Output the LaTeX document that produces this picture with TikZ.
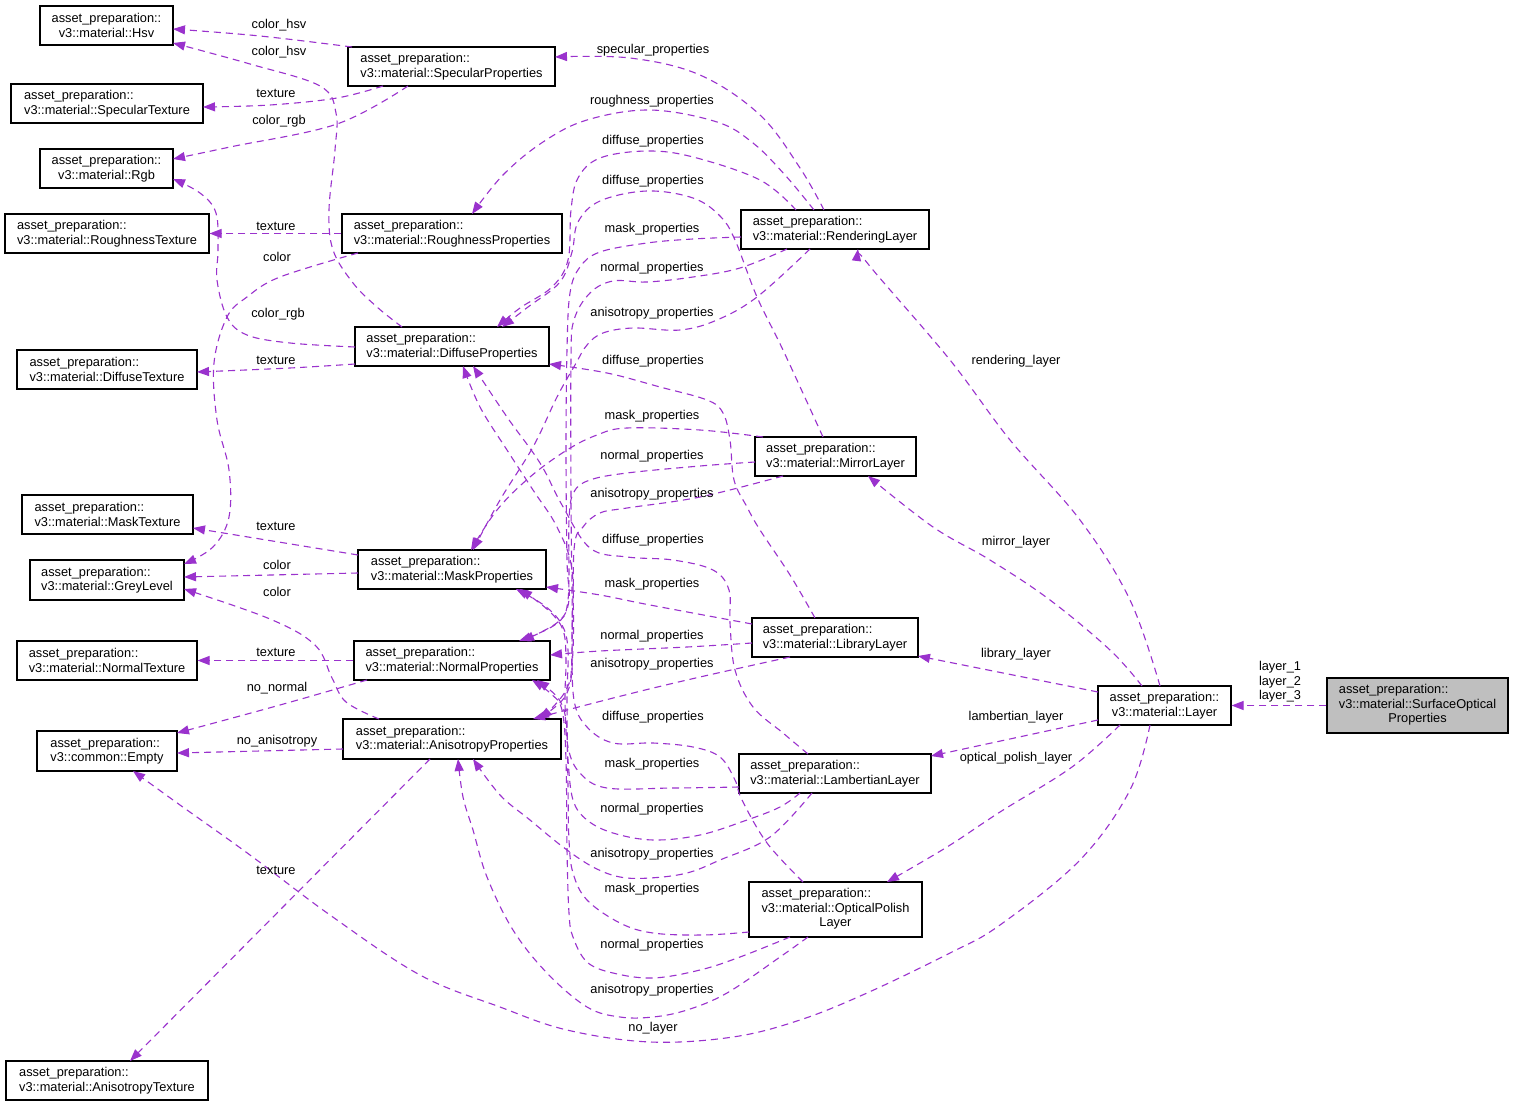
\documentclass[tikz,border=0pt]{standalone}
\usepackage{fontspec}
\setmainfont{Liberation Sans}
\usetikzlibrary{arrows.meta}
\definecolor{edgec}{HTML}{9A32CD}
\definecolor{fillg}{HTML}{BFBFBF}
\newcommand\dfont{\fontsize{12.8}{14.5}\selectfont}
\begin{document}
\begin{tikzpicture}[x=1pt,y=-1pt,
 cls/.style={draw=black, line width=1.1pt, fill=white, inner sep=0pt, font=\dfont, minimum height=39pt},
 ed/.style={draw=edgec, line width=1.1pt, dash pattern=on 7pt off 5pt, -{Triangle[length=12pt,width=9pt]}},
 lbl/.style={font=\dfont, inner sep=0pt, text=black}]
\fill[white] (0,0) rectangle (1513,1107);
\useasboundingbox (0,0) rectangle (1513,1107);
% nodes left column
\node[cls, minimum width=133pt, align=center] (hsv) at (106.5,25.5) {asset\_preparation::\\v3::material::Hsv};
\node[cls, minimum width=192pt, align=left] (spect) at (107,103.5) {asset\_preparation::\\v3::material::SpecularTexture};
\node[cls, minimum width=133pt, align=center] (rgb) at (106.5,168.5) {asset\_preparation::\\v3::material::Rgb};
\node[cls, minimum width=204pt, align=left] (rought) at (107,233.5) {asset\_preparation::\\v3::material::RoughnessTexture};
\node[cls, minimum width=180pt, align=left] (difft) at (107,369.5) {asset\_preparation::\\v3::material::DiffuseTexture};
\node[cls, minimum width=171pt, align=left] (maskt) at (107.5,514.5) {asset\_preparation::\\v3::material::MaskTexture};
\node[cls, minimum width=154pt, minimum height=40pt, align=left] (grey) at (107,580) {asset\_preparation::\\v3::material::GreyLevel};
\node[cls, minimum width=180pt, align=left] (normt) at (107,660.5) {asset\_preparation::\\v3::material::NormalTexture};
\node[cls, minimum width=140pt, minimum height=40pt, align=left] (empty) at (107,751) {asset\_preparation::\\v3::common::Empty};
\node[cls, minimum width=202pt, align=left] (anit) at (107,1080.5) {asset\_preparation::\\v3::material::AnisotropyTexture};
% middle column
\node[cls, minimum width=207pt, align=left] (specp) at (451.5,66.5) {asset\_preparation::\\v3::material::SpecularProperties};
\node[cls, minimum width=220pt, align=left] (roughp) at (452,233.5) {asset\_preparation::\\v3::material::RoughnessProperties};
\node[cls, minimum width=194pt, align=left] (diffp) at (452,346.5) {asset\_preparation::\\v3::material::DiffuseProperties};
\node[cls, minimum width=188pt, align=left] (maskp) at (452,569.5) {asset\_preparation::\\v3::material::MaskProperties};
\node[cls, minimum width=196pt, align=left] (normp) at (452,660.5) {asset\_preparation::\\v3::material::NormalProperties};
\node[cls, minimum width=218pt, minimum height=40pt, align=left] (anip) at (452,739) {asset\_preparation::\\v3::material::AnisotropyProperties};
% right column
\node[cls, minimum width=188pt, align=left] (rend) at (835,229.5) {asset\_preparation::\\v3::material::RenderingLayer};
\node[cls, minimum width=161pt, align=left] (mirror) at (835.5,456.5) {asset\_preparation::\\v3::material::MirrorLayer};
\node[cls, minimum width=166pt, align=left] (lib) at (835,637.5) {asset\_preparation::\\v3::material::LibraryLayer};
\node[cls, minimum width=192pt, align=left] (lamb) at (835,773.5) {asset\_preparation::\\v3::material::LambertianLayer};
\node[cls, minimum width=173pt, minimum height=55pt] (opt) at (835.5,909.5) {\begin{tabular}{@{}l@{}}asset\_preparation::\\v3::material::OpticalPolish\\\multicolumn{1}{@{}c@{}}{Layer}\end{tabular}};
\node[cls, minimum width=133pt, align=center] (layer) at (1164.5,705.5) {asset\_preparation::\\v3::material::Layer};
\node[cls, minimum width=181pt, minimum height=55pt, fill=fillg] (sop) at (1417.5,705.5) {\begin{tabular}{@{}l@{}}asset\_preparation::\\v3::material::SurfaceOptical\\\multicolumn{1}{@{}c@{}}{Properties}\end{tabular}};

% edges
\draw[ed] plot[smooth,tension=0.6] coordinates {([shift={(-99.5,-19.5)}]specp.center) (260,36) ([shift={(66.5,3.5)}]hsv.center)};
\draw[ed] plot[smooth,tension=0.6] coordinates {([shift={(-50,-19.5)}]diffp.center) (377,307) (353,283) (333,250) (329,210) (335,150) (336,113) (320,86) (250,64) ([shift={(66.5,17.5)}]hsv.center)};
\draw[ed] plot[smooth,tension=0.6] coordinates {([shift={(-68.5,19.5)}]specp.center) (337,98) (270,105) ([shift={(96,3.5)}]spect.center)};
\draw[ed] plot[smooth,tension=0.6] coordinates {([shift={(-43.5,19.5)}]specp.center) (337,124) (230,147) ([shift={(66.5,-9.5)}]rgb.center)};
\draw[ed] plot[smooth,tension=0.6] coordinates {([shift={(-11,-19.5)}]rend.center) (800,168) (760,115) (700,75) (630,58) ([shift={(103.5,-9.5)}]specp.center)};
\draw[ed] plot[smooth,tension=0.6] coordinates {([shift={(-21,-19.5)}]rend.center) (785,175) (753,143) (717,122) (650,110) (587,120) (543,142) (503,175) ([shift={(20,-19.5)}]roughp.center)};
\draw[ed] plot[smooth,tension=0.6] coordinates {([shift={(-39,-19.5)}]rend.center) (760,180) (693,157) (647,151) (600,158) (578,178) (571,210) (568,260) (552,287) (520,308) ([shift={(45,-19.5)}]diffp.center)};
\draw[ed] plot[smooth,tension=0.6] coordinates {([shift={(-12.5,-19.5)}]mirror.center) (783,350) (757,297) (735,240) (720,216) (693,198) (647,191) (600,201) (578,222) (572,252) (560,282) (528,307) ([shift={(50,-19.5)}]diffp.center)};
\draw[ed] plot[smooth,tension=0.6] coordinates {([shift={(-94,7.5)}]rend.center) (693,239) (647,243) (600,252) (580,267) (570,293) (567,350) (566,450) (567,560) (569,600) (558,622) ([shift={(70,-19.5)}]normp.center)};
\draw[ed] plot[smooth,tension=0.6] coordinates {([shift={(-48,19.5)}]rend.center) (740,268) (693,277) (647,282) (613,281) (590,293) (574,320) (571,360) (571,500) (572,650) (566,690) ([shift={(88,-20)}]anip.center)};
\draw[ed] plot[smooth,tension=0.6] coordinates {([shift={(-25,19.5)}]rend.center) (757,297) (717,320) (680,330) (633,328) (603,333) (587,345) (575,365) (557,397) (533,447) (500,500) ([shift={(21,-19.5)}]maskp.center)};
\draw[ed] plot[smooth,tension=0.6] coordinates {([shift={(-20,-19.5)}]lib.center) (790,575) (760,530) (747,507) (734,480) (730,440) (723,413) (707,400) (660,387) (607,373) ([shift={(97,17.5)}]diffp.center)};
\draw[ed] plot[smooth,tension=0.6] coordinates {([shift={(-72.5,-19.5)}]mirror.center) (700,430) (627,428) (597,435) (567,450) (530,477) (497,510) ([shift={(19,-19.5)}]maskp.center)};
\draw[ed] plot[smooth,tension=0.6] coordinates {([shift={(-80.5,5.5)}]mirror.center) (700,466) (627,473) (590,480) (574,492) (569,520) (568,600) (556,624) ([shift={(67,-19.5)}]normp.center)};
\draw[ed] plot[smooth,tension=0.6] coordinates {([shift={(-52.5,19.5)}]mirror.center) (700,497) (627,508) (600,513) (583,527) (574,550) (573,650) (566,695) ([shift={(85,-20)}]anip.center)};
\draw[ed] plot[smooth,tension=0.6] coordinates {([shift={(-27,-19.5)}]lamb.center) (783,733) (753,707) (735,670) (730,623) (729,590) (713,570) (673,560) (627,557) (590,548) (562,505) (540,463) (507,417) ([shift={(21,19.5)}]diffp.center)};
\draw[ed] plot[smooth,tension=0.6] coordinates {([shift={(-83,-13.5)}]lib.center) (650,605) (600,595) ([shift={(94,17.5)}]maskp.center)};
\draw[ed] plot[smooth,tension=0.6] coordinates {([shift={(-83,5.5)}]lib.center) (687,647) (600,651) ([shift={(98,-5.5)}]normp.center)};
\draw[ed] plot[smooth,tension=0.6] coordinates {([shift={(-45,19.5)}]lib.center) (700,677) (633,693) (567,710) ([shift={(81,-20)}]anip.center)};
\draw[ed] plot[smooth,tension=0.6] coordinates {([shift={(-32.5,-27.5)}]opt.center) (767,843) (742,800) (735,780) (720,757) (693,747) (653,743) (613,743) (587,727) (574,700) (572,640) (572,570) (557,527) (533,490) (507,450) (480,407) ([shift={(11,19.5)}]diffp.center)};
\draw[ed] plot[smooth,tension=0.6] coordinates {([shift={(-96,13.5)}]lamb.center) (673,788) (607,788) (580,773) (568,747) (565,700) (566,660) (563,630) (548,610) ([shift={(68,19.5)}]maskp.center)};
\draw[ed] plot[smooth,tension=0.6] coordinates {([shift={(-35,19.5)}]lamb.center) (780,807) (747,820) (700,835) (653,840) (613,833) (587,820) (573,800) (568,760) (566,720) (558,698) ([shift={(85,19.5)}]normp.center)};
\draw[ed] plot[smooth,tension=0.6] coordinates {([shift={(-23,19.5)}]lamb.center) (770,837) (720,860) (687,873) (650,878) (620,877) (593,867) (563,847) (530,820) (500,795) ([shift={(21,20)}]anip.center)};
\draw[ed] plot[smooth,tension=0.6] coordinates {([shift={(-86.5,22.5)}]opt.center) (703,935) (653,933) (620,923) (587,900) (573,873) (569,840) (568,787) (567,700) (568,650) (562,625) (545,606) ([shift={(64,19.5)}]maskp.center)};
\draw[ed] plot[smooth,tension=0.6] coordinates {([shift={(-45.5,27.5)}]opt.center) (740,957) (700,970) (653,978) (613,973) (587,962) (573,937) (569,913) (567,850) (566,760) (562,710) (550,693) ([shift={(80,19.5)}]normp.center)};
\draw[ed] plot[smooth,tension=0.6] coordinates {([shift={(-27.5,27.5)}]opt.center) (780,957) (727,993) (687,1010) (653,1017) (620,1017) (587,1007) (547,973) (513,930) (487,877) (473,830) (463,797) ([shift={(6,20)}]anip.center)};
\draw[ed] plot[smooth,tension=0.6] coordinates {([shift={(-14.5,19.5)}]layer.center) (1130,790) (1080,860) (1000,925) (950,953) (867,993) (800,1020) (733,1037) (650,1042) (567,1030) (500,1007) (420,975) (330,915) (250,855) (180,805) ([shift={(26,20)}]empty.center)};
\draw[ed] plot[smooth,tension=0.6] coordinates {([shift={(-4.5,-19.5)}]layer.center) (1130,600) (1080,520) (1010,440) (950,360) (873,270) ([shift={(23,19.5)}]rend.center)};
\draw[ed] plot[smooth,tension=0.6] coordinates {([shift={(-22.5,-19.5)}]layer.center) (1110,650) (1050,600) (990,560) (933,527) ([shift={(32.5,19.5)}]mirror.center)};
\draw[ed] ([shift={(-66.5,-13.5)}]layer.center) -- ([shift={(83,18.5)}]lib.center);
\draw[ed] ([shift={(-66.5,14.5)}]layer.center) -- ([shift={(96,-17.5)}]lamb.center);
\draw[ed] plot[smooth,tension=0.6] coordinates {([shift={(-44.5,19.5)}]layer.center) (1072,767) (1000,812) (947,847) ([shift={(51.5,-27.5)}]opt.center)};
\draw[ed] (sop.west) -- (layer.east);
\draw[ed] (roughp.west) -- (rought.east);
\draw[ed] plot[smooth,tension=0.6] coordinates {([shift={(-94,19.5)}]roughp.center) (280,277) (247,297) (227,317) (214,363) (217,420) (229,470) (229,517) (213,547) ([shift={(77,-16)}]grey.center)};
\draw[ed] plot[smooth,tension=0.6] coordinates {([shift={(-97,0.5)}]diffp.center) (290,343) (247,335) (227,317) (217,280) (218,250) (216,213) (200,193) ([shift={(66.5,10.5)}]rgb.center)};
\draw[ed] plot[smooth,tension=0.6] coordinates {([shift={(-97,17.5)}]diffp.center) (290,368) ([shift={(90,2.5)}]difft.center)};
\draw[ed] ([shift={(-94,-14.5)}]maskp.center) -- ([shift={(85.5,13.5)}]maskt.center);
\draw[ed] ([shift={(-94,3.5)}]maskp.center) -- ([shift={(77,-3)}]grey.center);
\draw[ed] plot[smooth,tension=0.6] coordinates {([shift={(-73,-20)}]anip.center) (346,702) (332,678) (315,645) (270,619) ([shift={(77,9)}]grey.center)};
\draw[ed] (normp.west) -- (normt.east);
\draw[ed] plot[smooth,tension=0.6] coordinates {([shift={(-85,19.5)}]normp.center) (280,705) ([shift={(70,-18)}]empty.center)};
\draw[ed] plot[smooth,tension=0.6] coordinates {([shift={(-109,10)}]anip.center) (260,751) ([shift={(70,2)}]empty.center)};
\draw[ed] ([shift={(-22,20)}]anip.center) -- ([shift={(23,-19.5)}]anit.center);

% labels
\node[lbl] (l1) at (279,25) {color\_hsv};
\node[lbl] (l2) at (279,52) {color\_hsv};
\node[lbl] (l3) at (276,93) {texture};
\node[lbl] (l4) at (279,121) {color\_rgb};
\node[lbl] (l5) at (653,50) {specular\_properties};
\node[lbl] (l6) at (652,101) {roughness\_properties};
\node[lbl] (l7) at (653,141) {diffuse\_properties};
\node[lbl] (l8) at (653,181) {diffuse\_properties};
\node[lbl] (l9) at (276,226) {texture};
\node[lbl] (l10) at (652,229) {mask\_properties};
\node[lbl] (l11) at (277,257) {color};
\node[lbl] (l12) at (652,268) {normal\_properties};
\node[lbl] (l13) at (278,314) {color\_rgb};
\node[lbl] (l14) at (652,313) {anisotropy\_properties};
\node[lbl] (l15) at (276,360) {texture};
\node[lbl] (l16) at (653,361) {diffuse\_properties};
\node[lbl] (l17) at (1016,361) {rendering\_layer};
\node[lbl] (l18) at (652,416) {mask\_properties};
\node[lbl] (l19) at (652,456) {normal\_properties};
\node[lbl] (l20) at (652,494) {anisotropy\_properties};
\node[lbl] (l21) at (276,526) {texture};
\node[lbl] (l22) at (653,540) {diffuse\_properties};
\node[lbl] (l23) at (1016,542) {mirror\_layer};
\node[lbl] (l24) at (277,565) {color};
\node[lbl] (l25) at (652,584) {mask\_properties};
\node[lbl] (l26) at (277,592) {color};
\node[lbl] (l27) at (652,636) {normal\_properties};
\node[lbl] (l28) at (276,652) {texture};
\node[lbl] (l29) at (1016,654) {library\_layer};
\node[lbl] (l30) at (652,664) {anisotropy\_properties};
\node[lbl, align=center] (l31) at (1280,682) {layer\_1\\layer\_2\\layer\_3};
\node[lbl] (l32) at (277,688) {no\_normal};
\node[lbl] (l33) at (653,717) {diffuse\_properties};
\node[lbl] (l34) at (1016,717) {lambertian\_layer};
\node[lbl] (l35) at (277,741) {no\_anisotropy};
\node[lbl] (l36) at (1016,758) {optical\_polish\_layer};
\node[lbl] (l37) at (652,764) {mask\_properties};
\node[lbl] (l38) at (652,809) {normal\_properties};
\node[lbl] (l39) at (652,854) {anisotropy\_properties};
\node[lbl] (l40) at (276,870) {texture};
\node[lbl] (l41) at (652,889) {mask\_properties};
\node[lbl] (l42) at (652,945) {normal\_properties};
\node[lbl] (l43) at (652,990) {anisotropy\_properties};
\node[lbl] (l44) at (653,1028) {no\_layer};
\end{tikzpicture}
\end{document}
